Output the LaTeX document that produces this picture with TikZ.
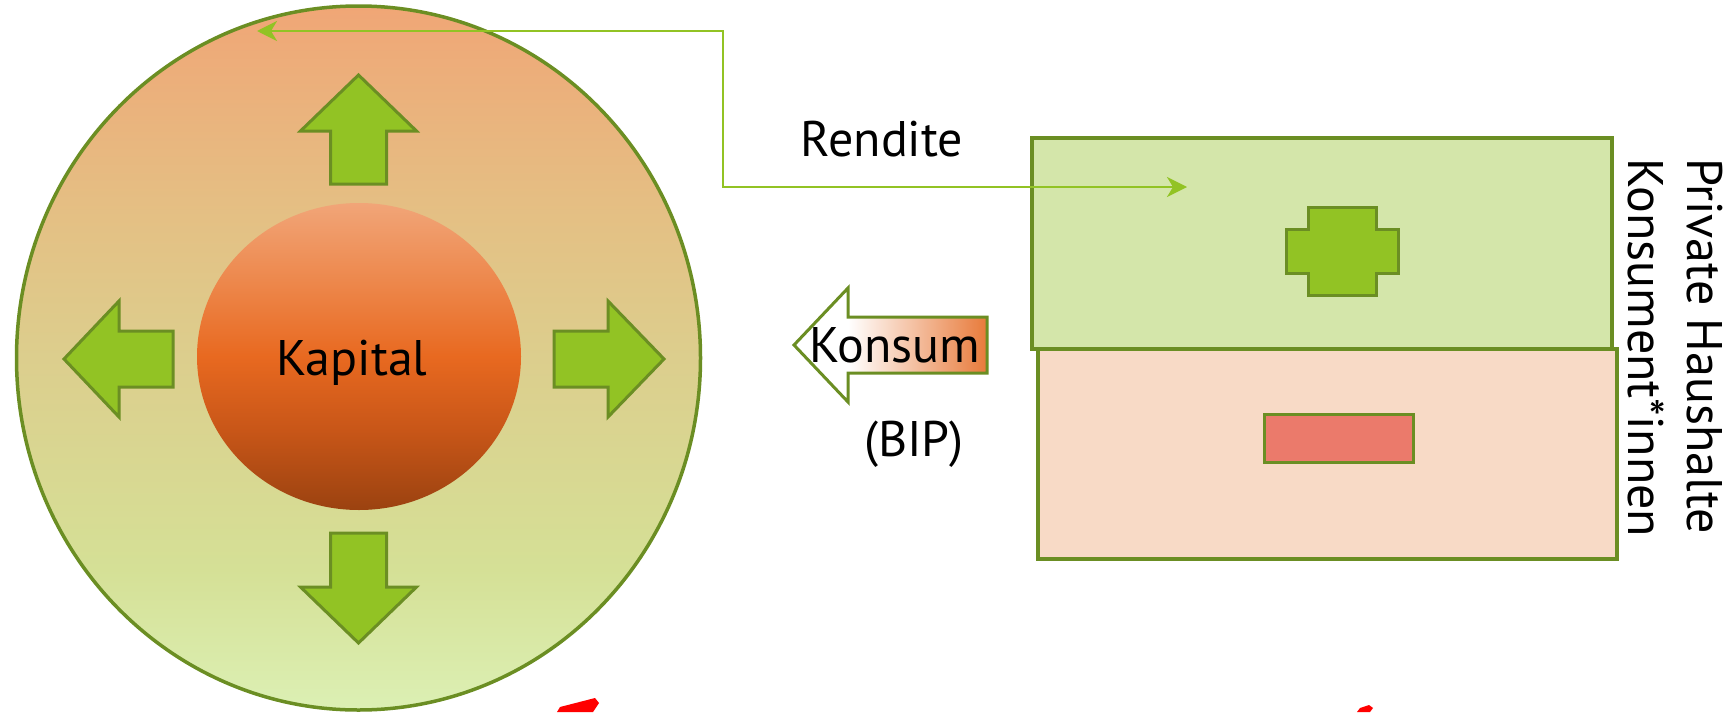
\documentclass[tikz,border=0pt]{standalone}
\usepackage{fontspec}
\setmainfont{PT Sans}
\usetikzlibrary{shapes.geometric,arrows.meta}
\definecolor{olivec}{RGB}{107,142,35}
\definecolor{leafc}{RGB}{146,195,36}
\definecolor{c1}{RGB}{240,166,118}
\definecolor{c15}{RGB}{228,192,132}
\definecolor{c2}{RGB}{220,206,141}
\definecolor{c25}{RGB}{213,224,150}
\definecolor{c3}{RGB}{220,240,180}
\definecolor{k1}{RGB}{241,165,120}
\definecolor{k15}{RGB}{237,135,75}
\definecolor{k2}{RGB}{232,105,32}
\definecolor{k25}{RGB}{200,86,24}
\definecolor{k3}{RGB}{155,66,16}
\definecolor{korange}{RGB}{232,122,58}
\definecolor{rectgreen}{RGB}{212,230,170}
\definecolor{rectpink}{RGB}{248,218,198}
\definecolor{minusred}{RGB}{235,122,107}
\pgfdeclarehorizontalshading{konsumshade}{100bp}{color(0bp)=(white); color(39bp)=(white); color(75bp)=(korange); color(100bp)=(korange)}
\pgfdeclareverticalshading{worldshade}{100bp}{color(0bp)=(c3); color(25bp)=(c3); color(35bp)=(c25); color(50bp)=(c2); color(60bp)=(c15); color(75bp)=(c1); color(100bp)=(c1)}
\pgfdeclareverticalshading{kapshade}{100bp}{color(0bp)=(k3); color(25bp)=(k3); color(38bp)=(k25); color(50bp)=(k2); color(62bp)=(k15); color(75bp)=(k1); color(100bp)=(k1)}
\begin{document}
\begin{tikzpicture}[x=1pt,y=-1pt,
  txt/.style={inner sep=0pt, font=\fontsize{50}{60}\selectfont, text=black},
  garrow/.style={fill=leafc, draw=olivec, line width=3pt, line join=miter},
  box/.style={rectangle, draw=olivec, line width=3.5pt, inner sep=0pt},
  conn/.style={draw=leafc, line width=2.5pt}]
\useasboundingbox (0,0) rectangle (1731,712);

% big circle
\node[ellipse, draw=olivec, line width=3.5pt, minimum width=684pt, minimum height=704pt, inner sep=0pt,
  shading=worldshade] (world) at (358.5,358) {};
% Kapital
\node[ellipse, minimum width=324pt, minimum height=307pt, inner sep=0pt,
  shading=kapshade] (kap) at (359,356.5) {};
\node[txt, anchor=base] (kaptext) at (352,375) {Kapital};

% four arrows
\filldraw[garrow] (358.5,75) -- (416.5,131) -- (386.5,131) -- (386.5,184) -- (330.5,184) -- (330.5,131) -- (300.5,131) -- cycle;
\filldraw[garrow] (330.5,533) -- (386.5,533) -- (386.5,587) -- (416.5,587) -- (358.5,643) -- (300.5,587) -- (330.5,587) -- cycle;
\filldraw[garrow] (64,359) -- (119,301) -- (119,331) -- (173,331) -- (173,387) -- (119,387) -- (119,417) -- cycle;
\filldraw[garrow] (554,331) -- (608,331) -- (608,301) -- (664,359) -- (608,417) -- (608,387) -- (554,387) -- cycle;

% Konsum arrow
\path[shading=konsumshade, draw=olivec, line width=3pt, line join=miter] (794,345) -- (848,288) -- (848,317) -- (987,317) -- (987,373) -- (848,373) -- (848,402) -- cycle;
\node[txt, anchor=base] (konsum) at (895,362) {Konsum};
\node[txt, anchor=base] (bip) at (914,456) {(BIP)};

% households
\node[box, fill=rectgreen, minimum width=580pt, minimum height=211pt] (green) at (1322,243.5) {};
\node[box, fill=rectpink, minimum width=579pt, minimum height=210pt] (pink) at (1327.5,454) {};
\filldraw[fill=leafc, draw=olivec, line width=3pt] (1308,207) -- (1376,207) -- (1376,229) -- (1398,229) -- (1398,273) -- (1376,273) -- (1376,295) -- (1308,295) -- (1308,273) -- (1286,273) -- (1286,229) -- (1308,229) -- cycle;
\node[rectangle, draw=olivec, line width=3pt, fill=minusred, minimum width=149pt, minimum height=48pt, inner sep=0pt] (minus) at (1338.5,438) {};

\node[txt, anchor=base west, rotate=-90] (ph) at (1687,158) {Private Haushalte};
\node[txt, anchor=base west, rotate=-90] (ki) at (1628,158) {Konsument*innen};

% Rendite connector
\node[txt, anchor=base] (rendite) at (882,156) {Rendite};
\coordinate (rA) at (257,31);
\coordinate (vtop) at (723,31);
\coordinate (rB) at (1187,187);
\draw[conn, {Stealth[length=20pt,width=20pt,inset=6pt]}-{Stealth[length=20pt,width=20pt,inset=6pt]}] (rA) -- (vtop) |- (rB);

% clipped red pictures at the bottom
\fill[red] (557,712) -- (560,707) -- (595,698) -- (599,703) -- (593,712) -- cycle;
\fill[red] (1357,712) -- (1360,708) -- (1369,705) -- (1373,708) -- (1370,712) -- cycle;
\end{tikzpicture}
\end{document}
